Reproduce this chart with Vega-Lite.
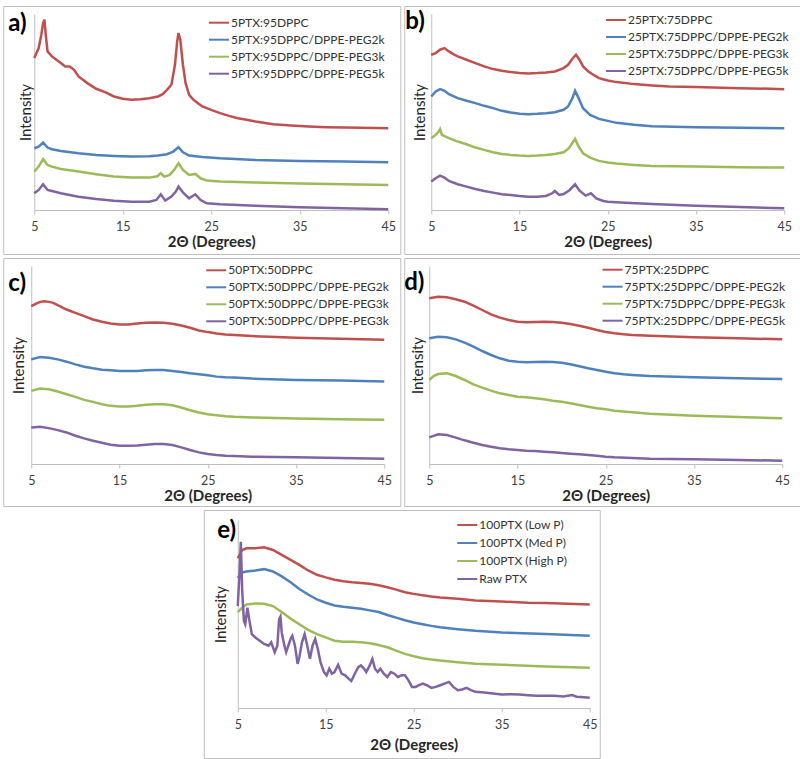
{
"$schema": "https://vega.github.io/schema/vega-lite/v6.json",
"padding": {"left": 2, "top": 5, "right": 0, "bottom": 0},
"background": "white",
"config": {
  "view": {"stroke": "#bfbfbf", "strokeWidth": 1},
  "font": "Lato",
  "axis": {"grid": false, "domainColor": "#bfbfbf", "tickColor": "#bfbfbf", "tickSize": 4, "labelFont": "Lato", "labelFontSize": 12.5, "labelColor": "#404040", "labelPadding": 6, "labelFlush": false, "titleFont": "Lato", "titleFontSize": 15, "titleFontWeight": "bold", "titleColor": "#262626"},
  "axisY": {"titleFontWeight": "normal", "titleFontSize": 15},
  "legend": {"labelFont": "Lato", "labelFontSize": 12, "labelColor": "#333333", "symbolType": "M-2,0H2", "symbolSize": 100, "symbolStrokeWidth": 2, "rowPadding": 5, "labelOffset": 6, "padding": 0, "labelLimit": 400},
  "title": {"font": "Lato", "fontSize": 24, "fontWeight": "bold", "color": "#000000", "anchor": "start", "frame": "group", "baseline": "alphabetic"}
},
"datasets": {
"a": [
{"k":1,"x":5,"y":455},{"k":1,"x":5.5,"y":485},{"k":1,"x":5.8,"y":525},{"k":1,"x":6,"y":560},{"k":1,"x":6.15,"y":570},{"k":1,"x":6.3,"y":525},{"k":1,"x":6.5,"y":475},{"k":1,"x":7,"y":460},{"k":1,"x":7.5,"y":450},{"k":1,"x":8,"y":440},{"k":1,"x":8.5,"y":430},{"k":1,"x":9,"y":430},{"k":1,"x":9.5,"y":420},{"k":1,"x":10,"y":400},{"k":1,"x":11,"y":380},{"k":1,"x":12,"y":363},{"k":1,"x":13,"y":353},{"k":1,"x":14,"y":340},{"k":1,"x":15,"y":333},{"k":1,"x":16,"y":330},{"k":1,"x":17,"y":332},{"k":1,"x":18,"y":335},{"k":1,"x":19,"y":340},{"k":1,"x":19.5,"y":347},{"k":1,"x":20,"y":360},{"k":1,"x":20.5,"y":375},{"k":1,"x":20.9,"y":435},{"k":1,"x":21.15,"y":505},{"k":1,"x":21.3,"y":530},{"k":1,"x":21.5,"y":510},{"k":1,"x":21.8,"y":435},{"k":1,"x":22.1,"y":380},{"k":1,"x":22.5,"y":345},{"k":1,"x":23,"y":330},{"k":1,"x":23.5,"y":320},{"k":1,"x":24,"y":310},{"k":1,"x":25,"y":300},{"k":1,"x":26,"y":290},{"k":1,"x":27,"y":282},{"k":1,"x":28,"y":275},{"k":1,"x":29,"y":270},{"k":1,"x":30,"y":265},{"k":1,"x":32,"y":257},{"k":1,"x":34,"y":253},{"k":1,"x":36,"y":250},{"k":1,"x":38,"y":248},{"k":1,"x":40,"y":247},{"k":1,"x":42,"y":246},{"k":1,"x":45,"y":245},
{"k":2,"x":5,"y":185},{"k":2,"x":5.5,"y":190},{"k":2,"x":6,"y":202},{"k":2,"x":6.5,"y":187},{"k":2,"x":7,"y":182},{"k":2,"x":8,"y":177},{"k":2,"x":10,"y":170},{"k":2,"x":12,"y":165},{"k":2,"x":14,"y":162},{"k":2,"x":16,"y":160},{"k":2,"x":18,"y":161},{"k":2,"x":19,"y":163},{"k":2,"x":20,"y":167},{"k":2,"x":20.7,"y":175},{"k":2,"x":21.3,"y":188},{"k":2,"x":21.8,"y":173},{"k":2,"x":22.5,"y":163},{"k":2,"x":24,"y":159},{"k":2,"x":26,"y":155},{"k":2,"x":30,"y":150},{"k":2,"x":35,"y":147},{"k":2,"x":40,"y":145},{"k":2,"x":45,"y":143},
{"k":3,"x":5,"y":115},{"k":3,"x":5.5,"y":130},{"k":3,"x":6,"y":153},{"k":3,"x":6.5,"y":135},{"k":3,"x":7,"y":130},{"k":3,"x":8,"y":123},{"k":3,"x":10,"y":115},{"k":3,"x":12,"y":107},{"k":3,"x":14,"y":100},{"k":3,"x":16,"y":97},{"k":3,"x":18,"y":97},{"k":3,"x":18.9,"y":101},{"k":3,"x":19.3,"y":110},{"k":3,"x":19.7,"y":100},{"k":3,"x":20.3,"y":105},{"k":3,"x":20.8,"y":120},{"k":3,"x":21.3,"y":140},{"k":3,"x":21.8,"y":120},{"k":3,"x":22.5,"y":105},{"k":3,"x":23.2,"y":108},{"k":3,"x":23.8,"y":95},{"k":3,"x":24.5,"y":88},{"k":3,"x":26,"y":85},{"k":3,"x":30,"y":82},{"k":3,"x":35,"y":79},{"k":3,"x":40,"y":77},{"k":3,"x":45,"y":75},
{"k":4,"x":5,"y":50},{"k":4,"x":5.5,"y":60},{"k":4,"x":6,"y":77},{"k":4,"x":6.5,"y":60},{"k":4,"x":7,"y":57},{"k":4,"x":8,"y":50},{"k":4,"x":10,"y":40},{"k":4,"x":12,"y":33},{"k":4,"x":14,"y":28},{"k":4,"x":16,"y":25},{"k":4,"x":18,"y":25},{"k":4,"x":18.8,"y":30},{"k":4,"x":19.3,"y":47},{"k":4,"x":19.8,"y":28},{"k":4,"x":20.5,"y":40},{"k":4,"x":21,"y":55},{"k":4,"x":21.3,"y":70},{"k":4,"x":21.8,"y":53},{"k":4,"x":22.5,"y":35},{"k":4,"x":23.2,"y":47},{"k":4,"x":23.8,"y":30},{"k":4,"x":24.5,"y":20},{"k":4,"x":26,"y":17},{"k":4,"x":30,"y":13},{"k":4,"x":35,"y":8},{"k":4,"x":40,"y":5},{"k":4,"x":45,"y":2}
],
"b": [
{"k":1,"x":5,"y":465},{"k":1,"x":5.5,"y":470},{"k":1,"x":6,"y":480},{"k":1,"x":6.5,"y":485},{"k":1,"x":7,"y":475},{"k":1,"x":7.5,"y":467},{"k":1,"x":8,"y":460},{"k":1,"x":9,"y":450},{"k":1,"x":10,"y":440},{"k":1,"x":11,"y":430},{"k":1,"x":12,"y":422},{"k":1,"x":13,"y":417},{"k":1,"x":14,"y":413},{"k":1,"x":15,"y":410},{"k":1,"x":16,"y":409},{"k":1,"x":17,"y":410},{"k":1,"x":18,"y":412},{"k":1,"x":19,"y":415},{"k":1,"x":20,"y":425},{"k":1,"x":20.5,"y":435},{"k":1,"x":21,"y":453},{"k":1,"x":21.4,"y":465},{"k":1,"x":21.8,"y":450},{"k":1,"x":22.2,"y":430},{"k":1,"x":22.8,"y":415},{"k":1,"x":23.5,"y":403},{"k":1,"x":24,"y":395},{"k":1,"x":25,"y":388},{"k":1,"x":26,"y":383},{"k":1,"x":28,"y":377},{"k":1,"x":30,"y":373},{"k":1,"x":32,"y":370},{"k":1,"x":35,"y":368},{"k":1,"x":40,"y":365},{"k":1,"x":45,"y":362},
{"k":2,"x":5,"y":340},{"k":2,"x":5.5,"y":355},{"k":2,"x":6,"y":362},{"k":2,"x":6.5,"y":357},{"k":2,"x":7,"y":347},{"k":2,"x":8,"y":335},{"k":2,"x":9,"y":327},{"k":2,"x":10,"y":320},{"k":2,"x":11,"y":312},{"k":2,"x":12,"y":305},{"k":2,"x":13,"y":297},{"k":2,"x":14,"y":292},{"k":2,"x":15,"y":288},{"k":2,"x":16,"y":287},{"k":2,"x":17,"y":288},{"k":2,"x":18,"y":290},{"k":2,"x":19,"y":293},{"k":2,"x":20,"y":300},{"k":2,"x":20.5,"y":310},{"k":2,"x":21,"y":335},{"k":2,"x":21.3,"y":357},{"k":2,"x":21.7,"y":335},{"k":2,"x":22.2,"y":305},{"k":2,"x":23,"y":285},{"k":2,"x":24,"y":273},{"k":2,"x":25,"y":267},{"k":2,"x":26,"y":261},{"k":2,"x":28,"y":255},{"k":2,"x":30,"y":251},{"k":2,"x":35,"y":248},{"k":2,"x":40,"y":246},{"k":2,"x":45,"y":245},
{"k":3,"x":5,"y":215},{"k":3,"x":5.5,"y":225},{"k":3,"x":5.85,"y":235},{"k":3,"x":6,"y":242},{"k":3,"x":6.2,"y":225},{"k":3,"x":7,"y":215},{"k":3,"x":8,"y":205},{"k":3,"x":9,"y":197},{"k":3,"x":10,"y":187},{"k":3,"x":11,"y":180},{"k":3,"x":12,"y":173},{"k":3,"x":13,"y":168},{"k":3,"x":14,"y":165},{"k":3,"x":15,"y":163},{"k":3,"x":16,"y":162},{"k":3,"x":17,"y":163},{"k":3,"x":18,"y":165},{"k":3,"x":19,"y":168},{"k":3,"x":20,"y":173},{"k":3,"x":20.6,"y":185},{"k":3,"x":21.1,"y":205},{"k":3,"x":21.3,"y":213},{"k":3,"x":21.7,"y":190},{"k":3,"x":22.2,"y":170},{"k":3,"x":23,"y":157},{"k":3,"x":24,"y":147},{"k":3,"x":25,"y":142},{"k":3,"x":26,"y":139},{"k":3,"x":28,"y":135},{"k":3,"x":30,"y":132},{"k":3,"x":35,"y":130},{"k":3,"x":40,"y":128},{"k":3,"x":45,"y":127},
{"k":4,"x":5,"y":85},{"k":4,"x":5.5,"y":95},{"k":4,"x":6,"y":103},{"k":4,"x":6.5,"y":97},{"k":4,"x":7,"y":87},{"k":4,"x":8,"y":77},{"k":4,"x":9,"y":70},{"k":4,"x":10,"y":63},{"k":4,"x":11,"y":57},{"k":4,"x":12,"y":52},{"k":4,"x":13,"y":47},{"k":4,"x":14,"y":45},{"k":4,"x":15,"y":42},{"k":4,"x":16,"y":40},{"k":4,"x":17,"y":40},{"k":4,"x":18,"y":42},{"k":4,"x":18.7,"y":50},{"k":4,"x":19,"y":57},{"k":4,"x":19.5,"y":45},{"k":4,"x":20,"y":48},{"k":4,"x":20.7,"y":60},{"k":4,"x":21.3,"y":77},{"k":4,"x":21.8,"y":58},{"k":4,"x":22.5,"y":43},{"k":4,"x":23.1,"y":50},{"k":4,"x":23.7,"y":35},{"k":4,"x":24.5,"y":27},{"k":4,"x":25,"y":25},{"k":4,"x":27,"y":22},{"k":4,"x":30,"y":18},{"k":4,"x":35,"y":13},{"k":4,"x":40,"y":9},{"k":4,"x":45,"y":5}
],
"c": [
{"k":1,"x":5,"y":475},{"k":1,"x":5.5,"y":482},{"k":1,"x":6,"y":488},{"k":1,"x":6.5,"y":490},{"k":1,"x":7,"y":488},{"k":1,"x":7.5,"y":485},{"k":1,"x":8,"y":478},{"k":1,"x":9,"y":465},{"k":1,"x":10,"y":455},{"k":1,"x":11,"y":445},{"k":1,"x":12,"y":435},{"k":1,"x":13,"y":428},{"k":1,"x":14,"y":423},{"k":1,"x":15,"y":420},{"k":1,"x":16,"y":420},{"k":1,"x":17,"y":423},{"k":1,"x":18,"y":425},{"k":1,"x":19,"y":426},{"k":1,"x":20,"y":425},{"k":1,"x":21,"y":422},{"k":1,"x":22,"y":417},{"k":1,"x":23,"y":410},{"k":1,"x":24,"y":402},{"k":1,"x":25,"y":397},{"k":1,"x":26,"y":393},{"k":1,"x":27,"y":390},{"k":1,"x":28,"y":388},{"k":1,"x":30,"y":385},{"k":1,"x":32,"y":383},{"k":1,"x":35,"y":380},{"k":1,"x":40,"y":377},{"k":1,"x":45,"y":374},
{"k":2,"x":5,"y":315},{"k":2,"x":6,"y":322},{"k":2,"x":7,"y":320},{"k":2,"x":8,"y":315},{"k":2,"x":9,"y":308},{"k":2,"x":10,"y":300},{"k":2,"x":11,"y":293},{"k":2,"x":12,"y":288},{"k":2,"x":13,"y":284},{"k":2,"x":14,"y":282},{"k":2,"x":15,"y":280},{"k":2,"x":16,"y":280},{"k":2,"x":17,"y":280},{"k":2,"x":18,"y":282},{"k":2,"x":19,"y":283},{"k":2,"x":20,"y":283},{"k":2,"x":21,"y":280},{"k":2,"x":22,"y":277},{"k":2,"x":23,"y":273},{"k":2,"x":24,"y":270},{"k":2,"x":25,"y":267},{"k":2,"x":26,"y":263},{"k":2,"x":27,"y":261},{"k":2,"x":28,"y":260},{"k":2,"x":30,"y":257},{"k":2,"x":35,"y":253},{"k":2,"x":40,"y":251},{"k":2,"x":45,"y":248},
{"k":3,"x":5,"y":220},{"k":3,"x":6,"y":227},{"k":3,"x":7,"y":225},{"k":3,"x":8,"y":218},{"k":3,"x":9,"y":210},{"k":3,"x":10,"y":202},{"k":3,"x":11,"y":193},{"k":3,"x":12,"y":187},{"k":3,"x":13,"y":180},{"k":3,"x":14,"y":175},{"k":3,"x":15,"y":173},{"k":3,"x":16,"y":173},{"k":3,"x":17,"y":175},{"k":3,"x":18,"y":178},{"k":3,"x":19,"y":180},{"k":3,"x":20,"y":180},{"k":3,"x":21,"y":177},{"k":3,"x":22,"y":170},{"k":3,"x":23,"y":162},{"k":3,"x":24,"y":155},{"k":3,"x":25,"y":150},{"k":3,"x":26,"y":147},{"k":3,"x":27,"y":144},{"k":3,"x":28,"y":142},{"k":3,"x":30,"y":140},{"k":3,"x":35,"y":137},{"k":3,"x":40,"y":135},{"k":3,"x":45,"y":133},
{"k":4,"x":5,"y":110},{"k":4,"x":6,"y":112},{"k":4,"x":7,"y":108},{"k":4,"x":8,"y":102},{"k":4,"x":9,"y":95},{"k":4,"x":10,"y":85},{"k":4,"x":11,"y":77},{"k":4,"x":12,"y":70},{"k":4,"x":13,"y":64},{"k":4,"x":14,"y":58},{"k":4,"x":15,"y":55},{"k":4,"x":16,"y":55},{"k":4,"x":17,"y":56},{"k":4,"x":18,"y":58},{"k":4,"x":19,"y":60},{"k":4,"x":20,"y":60},{"k":4,"x":21,"y":57},{"k":4,"x":22,"y":50},{"k":4,"x":23,"y":42},{"k":4,"x":24,"y":35},{"k":4,"x":25,"y":30},{"k":4,"x":26,"y":27},{"k":4,"x":27,"y":25},{"k":4,"x":28,"y":24},{"k":4,"x":30,"y":22},{"k":4,"x":35,"y":20},{"k":4,"x":40,"y":18},{"k":4,"x":45,"y":16}
],
"d": [
{"k":1,"x":5,"y":497},{"k":1,"x":6,"y":502},{"k":1,"x":7,"y":500},{"k":1,"x":8,"y":494},{"k":1,"x":9,"y":487},{"k":1,"x":10,"y":475},{"k":1,"x":11,"y":462},{"k":1,"x":12,"y":449},{"k":1,"x":13,"y":439},{"k":1,"x":14,"y":432},{"k":1,"x":15,"y":427},{"k":1,"x":16,"y":425},{"k":1,"x":17,"y":426},{"k":1,"x":18,"y":427},{"k":1,"x":19,"y":426},{"k":1,"x":20,"y":424},{"k":1,"x":21,"y":420},{"k":1,"x":22,"y":415},{"k":1,"x":23,"y":409},{"k":1,"x":24,"y":402},{"k":1,"x":25,"y":396},{"k":1,"x":26,"y":392},{"k":1,"x":27,"y":389},{"k":1,"x":28,"y":387},{"k":1,"x":30,"y":385},{"k":1,"x":35,"y":380},{"k":1,"x":40,"y":377},{"k":1,"x":45,"y":374},
{"k":2,"x":5,"y":377},{"k":2,"x":6,"y":382},{"k":2,"x":7,"y":380},{"k":2,"x":8,"y":374},{"k":2,"x":9,"y":364},{"k":2,"x":10,"y":352},{"k":2,"x":11,"y":339},{"k":2,"x":12,"y":327},{"k":2,"x":13,"y":317},{"k":2,"x":14,"y":310},{"k":2,"x":15,"y":307},{"k":2,"x":16,"y":305},{"k":2,"x":17,"y":306},{"k":2,"x":18,"y":307},{"k":2,"x":19,"y":306},{"k":2,"x":20,"y":304},{"k":2,"x":21,"y":299},{"k":2,"x":22,"y":293},{"k":2,"x":23,"y":287},{"k":2,"x":24,"y":282},{"k":2,"x":25,"y":277},{"k":2,"x":26,"y":272},{"k":2,"x":27,"y":269},{"k":2,"x":28,"y":267},{"k":2,"x":30,"y":264},{"k":2,"x":35,"y":260},{"k":2,"x":40,"y":257},{"k":2,"x":45,"y":255},
{"k":3,"x":5,"y":252},{"k":3,"x":5.5,"y":264},{"k":3,"x":6,"y":270},{"k":3,"x":7,"y":272},{"k":3,"x":8,"y":264},{"k":3,"x":9,"y":252},{"k":3,"x":10,"y":239},{"k":3,"x":11,"y":229},{"k":3,"x":12,"y":220},{"k":3,"x":13,"y":212},{"k":3,"x":14,"y":207},{"k":3,"x":15,"y":202},{"k":3,"x":16,"y":200},{"k":3,"x":17,"y":197},{"k":3,"x":18,"y":194},{"k":3,"x":19,"y":190},{"k":3,"x":20,"y":187},{"k":3,"x":21,"y":182},{"k":3,"x":22,"y":177},{"k":3,"x":23,"y":172},{"k":3,"x":24,"y":167},{"k":3,"x":25,"y":164},{"k":3,"x":26,"y":160},{"k":3,"x":28,"y":155},{"k":3,"x":30,"y":151},{"k":3,"x":35,"y":145},{"k":3,"x":40,"y":141},{"k":3,"x":45,"y":137},
{"k":4,"x":5,"y":80},{"k":4,"x":6,"y":89},{"k":4,"x":7,"y":87},{"k":4,"x":8,"y":79},{"k":4,"x":9,"y":71},{"k":4,"x":10,"y":64},{"k":4,"x":11,"y":57},{"k":4,"x":12,"y":52},{"k":4,"x":13,"y":47},{"k":4,"x":14,"y":44},{"k":4,"x":15,"y":42},{"k":4,"x":16,"y":40},{"k":4,"x":17,"y":39},{"k":4,"x":18,"y":37},{"k":4,"x":19,"y":35},{"k":4,"x":20,"y":33},{"k":4,"x":21,"y":31},{"k":4,"x":22,"y":29},{"k":4,"x":23,"y":27},{"k":4,"x":24,"y":25},{"k":4,"x":25,"y":22},{"k":4,"x":26,"y":20},{"k":4,"x":28,"y":18},{"k":4,"x":30,"y":16},{"k":4,"x":35,"y":14},{"k":4,"x":40,"y":12},{"k":4,"x":45,"y":10}
],
"e": [
{"k":1,"x":5,"y":454},{"k":1,"x":5.5,"y":479},{"k":1,"x":6,"y":484},{"k":1,"x":7,"y":484},{"k":1,"x":8,"y":487},{"k":1,"x":9,"y":479},{"k":1,"x":10,"y":464},{"k":1,"x":11,"y":449},{"k":1,"x":12,"y":434},{"k":1,"x":13,"y":417},{"k":1,"x":14,"y":404},{"k":1,"x":15,"y":396},{"k":1,"x":16,"y":389},{"k":1,"x":17,"y":384},{"k":1,"x":18,"y":381},{"k":1,"x":19,"y":379},{"k":1,"x":20,"y":377},{"k":1,"x":21,"y":372},{"k":1,"x":22,"y":366},{"k":1,"x":23,"y":359},{"k":1,"x":24,"y":351},{"k":1,"x":25,"y":346},{"k":1,"x":26,"y":342},{"k":1,"x":27,"y":338},{"k":1,"x":28,"y":335},{"k":1,"x":30,"y":331},{"k":1,"x":32,"y":326},{"k":1,"x":35,"y":323},{"k":1,"x":38,"y":319},{"k":1,"x":40,"y":318},{"k":1,"x":45,"y":314},
{"k":2,"x":5,"y":394},{"k":2,"x":5.5,"y":411},{"k":2,"x":6,"y":414},{"k":2,"x":7,"y":417},{"k":2,"x":8,"y":421},{"k":2,"x":9,"y":414},{"k":2,"x":10,"y":399},{"k":2,"x":11,"y":381},{"k":2,"x":12,"y":361},{"k":2,"x":13,"y":344},{"k":2,"x":14,"y":329},{"k":2,"x":15,"y":319},{"k":2,"x":16,"y":311},{"k":2,"x":17,"y":307},{"k":2,"x":18,"y":304},{"k":2,"x":19,"y":301},{"k":2,"x":20,"y":296},{"k":2,"x":21,"y":291},{"k":2,"x":22,"y":282},{"k":2,"x":23,"y":274},{"k":2,"x":24,"y":266},{"k":2,"x":25,"y":259},{"k":2,"x":26,"y":254},{"k":2,"x":27,"y":249},{"k":2,"x":28,"y":245},{"k":2,"x":30,"y":239},{"k":2,"x":32,"y":234},{"k":2,"x":35,"y":229},{"k":2,"x":40,"y":224},{"k":2,"x":45,"y":219},
{"k":3,"x":5,"y":291},{"k":3,"x":5.5,"y":304},{"k":3,"x":6,"y":314},{"k":3,"x":7,"y":317},{"k":3,"x":8,"y":316},{"k":3,"x":9,"y":309},{"k":3,"x":10,"y":291},{"k":3,"x":11,"y":271},{"k":3,"x":12,"y":254},{"k":3,"x":13,"y":237},{"k":3,"x":14,"y":224},{"k":3,"x":15,"y":214},{"k":3,"x":16,"y":204},{"k":3,"x":17,"y":201},{"k":3,"x":18,"y":201},{"k":3,"x":19,"y":199},{"k":3,"x":20,"y":196},{"k":3,"x":21,"y":191},{"k":3,"x":22,"y":184},{"k":3,"x":23,"y":174},{"k":3,"x":24,"y":164},{"k":3,"x":25,"y":157},{"k":3,"x":26,"y":151},{"k":3,"x":27,"y":147},{"k":3,"x":28,"y":144},{"k":3,"x":30,"y":139},{"k":3,"x":32,"y":134},{"k":3,"x":35,"y":131},{"k":3,"x":40,"y":126},{"k":3,"x":45,"y":122},
{"k":4,"x":5,"y":309},{"k":4,"x":5.2,"y":409},{"k":4,"x":5.35,"y":504},{"k":4,"x":5.5,"y":359},{"k":4,"x":5.7,"y":264},{"k":4,"x":5.85,"y":254},{"k":4,"x":6.1,"y":304},{"k":4,"x":6.3,"y":269},{"k":4,"x":6.6,"y":224},{"k":4,"x":7,"y":214},{"k":4,"x":7.5,"y":204},{"k":4,"x":8,"y":194},{"k":4,"x":8.5,"y":189},{"k":4,"x":8.8,"y":199},{"k":4,"x":9.2,"y":169},{"k":4,"x":9.5,"y":189},{"k":4,"x":9.7,"y":269},{"k":4,"x":9.85,"y":277},{"k":4,"x":10,"y":229},{"k":4,"x":10.3,"y":189},{"k":4,"x":10.5,"y":169},{"k":4,"x":11,"y":209},{"k":4,"x":11.2,"y":219},{"k":4,"x":11.5,"y":189},{"k":4,"x":11.8,"y":134},{"k":4,"x":12,"y":154},{"k":4,"x":12.3,"y":199},{"k":4,"x":12.6,"y":224},{"k":4,"x":12.9,"y":189},{"k":4,"x":13.2,"y":149},{"k":4,"x":13.5,"y":189},{"k":4,"x":13.8,"y":209},{"k":4,"x":14.1,"y":179},{"k":4,"x":14.4,"y":139},{"k":4,"x":14.8,"y":109},{"k":4,"x":15.1,"y":99},{"k":4,"x":15.4,"y":119},{"k":4,"x":15.7,"y":104},{"k":4,"x":16,"y":109},{"k":4,"x":16.4,"y":131},{"k":4,"x":16.8,"y":104},{"k":4,"x":17.2,"y":99},{"k":4,"x":17.6,"y":89},{"k":4,"x":17.9,"y":82},{"k":4,"x":18.3,"y":104},{"k":4,"x":18.7,"y":124},{"k":4,"x":19,"y":129},{"k":4,"x":19.3,"y":121},{"k":4,"x":19.6,"y":109},{"k":4,"x":20,"y":129},{"k":4,"x":20.3,"y":149},{"k":4,"x":20.6,"y":119},{"k":4,"x":20.9,"y":109},{"k":4,"x":21.2,"y":119},{"k":4,"x":21.6,"y":104},{"k":4,"x":22,"y":94},{"k":4,"x":22.4,"y":109},{"k":4,"x":22.8,"y":104},{"k":4,"x":23.2,"y":94},{"k":4,"x":23.6,"y":99},{"k":4,"x":24,"y":99},{"k":4,"x":24.4,"y":84},{"k":4,"x":24.8,"y":64},{"k":4,"x":25.2,"y":64},{"k":4,"x":25.6,"y":69},{"k":4,"x":26,"y":74},{"k":4,"x":26.5,"y":69},{"k":4,"x":27,"y":61},{"k":4,"x":27.5,"y":64},{"k":4,"x":28,"y":69},{"k":4,"x":28.5,"y":74},{"k":4,"x":29,"y":79},{"k":4,"x":29.5,"y":64},{"k":4,"x":30,"y":54},{"k":4,"x":30.5,"y":56},{"k":4,"x":31,"y":61},{"k":4,"x":31.5,"y":54},{"k":4,"x":32,"y":49},{"k":4,"x":33,"y":47},{"k":4,"x":34,"y":44},{"k":4,"x":35,"y":41},{"k":4,"x":36,"y":42},{"k":4,"x":37,"y":41},{"k":4,"x":38,"y":39},{"k":4,"x":39,"y":37},{"k":4,"x":40,"y":37},{"k":4,"x":41,"y":37},{"k":4,"x":42,"y":35},{"k":4,"x":43,"y":39},{"k":4,"x":43.5,"y":34},{"k":4,"x":44,"y":33},{"k":4,"x":45,"y":31}
]
},
"spacing": 2,
"center": true,
"resolve": {"scale": {"color": "independent", "x": "independent", "y": "independent"}, "legend": {"color": "independent"}},
"vconcat": [
{
"hconcat": [
{
"width": 397, "height": 248,
"data": {"name": "a"},
"transform": [{"lookup": "k", "from": {"data": {"values": [{"k":1,"n":"5PTX:95DPPC"},{"k":2,"n":"5PTX:95DPPC/DPPE-PEG2k"},{"k":3,"n":"5PTX:95DPPC/DPPE-PEG3k"},{"k":4,"n":"5PTX:95DPPC/DPPE-PEG5k"}]}, "key": "k", "fields": ["n"]}}],
"title": {"text": "a)", "offset": -30, "dx": 5},
"mark": {"type": "line", "strokeWidth": 2.5},
"encoding": {
"x": {"field": "x", "type": "quantitative", "scale": {"domain": [5, 45], "range": [31, 385], "nice": false, "zero": false}, "axis": {"values": [5, 15, 25, 35, 45], "title": "2Θ (Degrees)", "offset": -44, "titlePadding": 2}},
"y": {"field": "y", "type": "quantitative", "scale": {"domain": [0, 587], "range": [204, 8], "nice": false, "zero": false}, "axis": {"title": "Intensity", "labels": false, "ticks": false, "offset": -31, "titlePadding": 1}},
"color": {"field": "n", "type": "nominal", "scale": {"domain": ["5PTX:95DPPC", "5PTX:95DPPC/DPPE-PEG2k", "5PTX:95DPPC/DPPE-PEG3k", "5PTX:95DPPC/DPPE-PEG5k"], "range": ["#C0504D", "#4F81BD", "#9BBB59", "#8064A2"]}, "legend": {"title": null, "orient": "none", "legendX": 209.7, "legendY": 10.7}}
}
},
{
"width": 396, "height": 248,
"data": {"name": "b"},
"transform": [{"lookup": "k", "from": {"data": {"values": [{"k":1,"n":"25PTX:75DPPC"},{"k":2,"n":"25PTX:75DPPC/DPPE-PEG2k"},{"k":3,"n":"25PTX:75DPPC/DPPE-PEG3k"},{"k":4,"n":"25PTX:75DPPC/DPPE-PEG5k"}]}, "key": "k", "fields": ["n"]}}],
"title": {"text": "b)", "offset": -28, "dx": 1},
"mark": {"type": "line", "strokeWidth": 2.5},
"encoding": {
"x": {"field": "x", "type": "quantitative", "scale": {"domain": [5, 45], "range": [27, 380], "nice": false, "zero": false}, "axis": {"values": [5, 15, 25, 35, 45], "title": "2Θ (Degrees)", "offset": -44, "titlePadding": 2}},
"y": {"field": "y", "type": "quantitative", "scale": {"domain": [0, 587], "range": [204, 8], "nice": false, "zero": false}, "axis": {"title": "Intensity", "labels": false, "ticks": false, "offset": -27, "titlePadding": 4}},
"color": {"field": "n", "type": "nominal", "scale": {"domain": ["25PTX:75DPPC", "25PTX:75DPPC/DPPE-PEG2k", "25PTX:75DPPC/DPPE-PEG3k", "25PTX:75DPPC/DPPE-PEG5k"], "range": ["#C0504D", "#4F81BD", "#9BBB59", "#8064A2"]}, "legend": {"title": null, "orient": "none", "legendX": 205.7, "legendY": 8}}
}
}
],
"spacing": 2,
"resolve": {"scale": {"color": "independent", "x": "independent", "y": "independent"}, "legend": {"color": "independent"}}
},
{
"hconcat": [
{
"width": 397, "height": 248,
"data": {"name": "c"},
"transform": [{"lookup": "k", "from": {"data": {"values": [{"k":1,"n":"50PTX:50DPPC"},{"k":2,"n":"50PTX:50DPPC/DPPE-PEG2k"},{"k":3,"n":"50PTX:50DPPC/DPPE-PEG3k"},{"k":4,"n":"50PTX:50DPPC/DPPE-PEG3k "}]}, "key": "k", "fields": ["n"]}}],
"title": {"text": "c)", "offset": -38, "dx": 5},
"mark": {"type": "line", "strokeWidth": 2.5},
"encoding": {
"x": {"field": "x", "type": "quantitative", "scale": {"domain": [5, 45], "range": [28, 381], "nice": false, "zero": false}, "axis": {"values": [5, 15, 25, 35, 45], "title": "2Θ (Degrees)", "offset": -42, "titlePadding": 2}},
"y": {"field": "y", "type": "quantitative", "scale": {"domain": [0, 596], "range": [206, 8], "nice": false, "zero": false}, "axis": {"title": "Intensity", "labels": false, "ticks": false, "offset": -28, "titlePadding": 5}},
"color": {"field": "n", "type": "nominal", "scale": {"domain": ["50PTX:50DPPC", "50PTX:50DPPC/DPPE-PEG2k", "50PTX:50DPPC/DPPE-PEG3k", "50PTX:50DPPC/DPPE-PEG3k "], "range": ["#C0504D", "#4F81BD", "#9BBB59", "#8064A2"]}, "legend": {"title": null, "orient": "none", "legendX": 207, "legendY": 6.3}}
}
},
{
"width": 396, "height": 248,
"data": {"name": "d"},
"transform": [{"lookup": "k", "from": {"data": {"values": [{"k":1,"n":"75PTX:25DPPC"},{"k":2,"n":"75PTX:25DPPC/DPPE-PEG2k"},{"k":3,"n":"75PTX:75DPPC/DPPE-PEG3k"},{"k":4,"n":"75PTX:25DPPC/DPPE-PEG5k"}]}, "key": "k", "fields": ["n"]}}],
"title": {"text": "d)", "offset": -37, "dx": 0},
"mark": {"type": "line", "strokeWidth": 2.5},
"encoding": {
"x": {"field": "x", "type": "quantitative", "scale": {"domain": [5, 45], "range": [25, 378], "nice": false, "zero": false}, "axis": {"values": [5, 15, 25, 35, 45], "title": "2Θ (Degrees)", "offset": -42, "titlePadding": 2}},
"y": {"field": "y", "type": "quantitative", "scale": {"domain": [0, 594], "range": [206, 8], "nice": false, "zero": false}, "axis": {"title": "Intensity", "labels": false, "ticks": false, "offset": -25, "titlePadding": 4}},
"color": {"field": "n", "type": "nominal", "scale": {"domain": ["75PTX:25DPPC", "75PTX:25DPPC/DPPE-PEG2k", "75PTX:75DPPC/DPPE-PEG3k", "75PTX:25DPPC/DPPE-PEG5k"], "range": ["#C0504D", "#4F81BD", "#9BBB59", "#8064A2"]}, "legend": {"title": null, "orient": "none", "legendX": 202.3, "legendY": 5.7}}
}
}
],
"spacing": 2,
"resolve": {"scale": {"color": "independent", "x": "independent", "y": "independent"}, "legend": {"color": "independent"}}
},
{
"width": 396, "height": 248,
"data": {"name": "e"},
"transform": [{"lookup": "k", "from": {"data": {"values": [{"k":1,"n":"100PTX (Low P)"},{"k":2,"n":"100PTX (Med P)"},{"k":3,"n":"100PTX (High P)"},{"k":4,"n":"Raw PTX"}]}, "key": "k", "fields": ["n"]}}],
"title": {"text": "e)", "offset": -33, "dx": 13.5},
"mark": {"type": "line", "strokeWidth": 2.5},
"encoding": {
"x": {"field": "x", "type": "quantitative", "scale": {"domain": [5, 45], "range": [34, 386], "nice": false, "zero": false}, "axis": {"values": [5, 15, 25, 35, 45], "title": "2Θ (Degrees)", "offset": -50, "titlePadding": 7}},
"y": {"field": "y", "type": "quantitative", "scale": {"domain": [0, 570], "range": [198, 10], "nice": false, "zero": false}, "axis": {"title": "Intensity", "labels": false, "ticks": false, "offset": -34, "titlePadding": 9}},
"color": {"field": "n", "type": "nominal", "scale": {"domain": ["100PTX (Low P)", "100PTX (Med P)", "100PTX (High P)", "Raw PTX"], "range": ["#C0504D", "#4F81BD", "#9BBB59", "#8064A2"]}, "legend": {"title": null, "orient": "none", "legendX": 257.5, "legendY": 9, "rowPadding": 6}}
}
}
]
}
